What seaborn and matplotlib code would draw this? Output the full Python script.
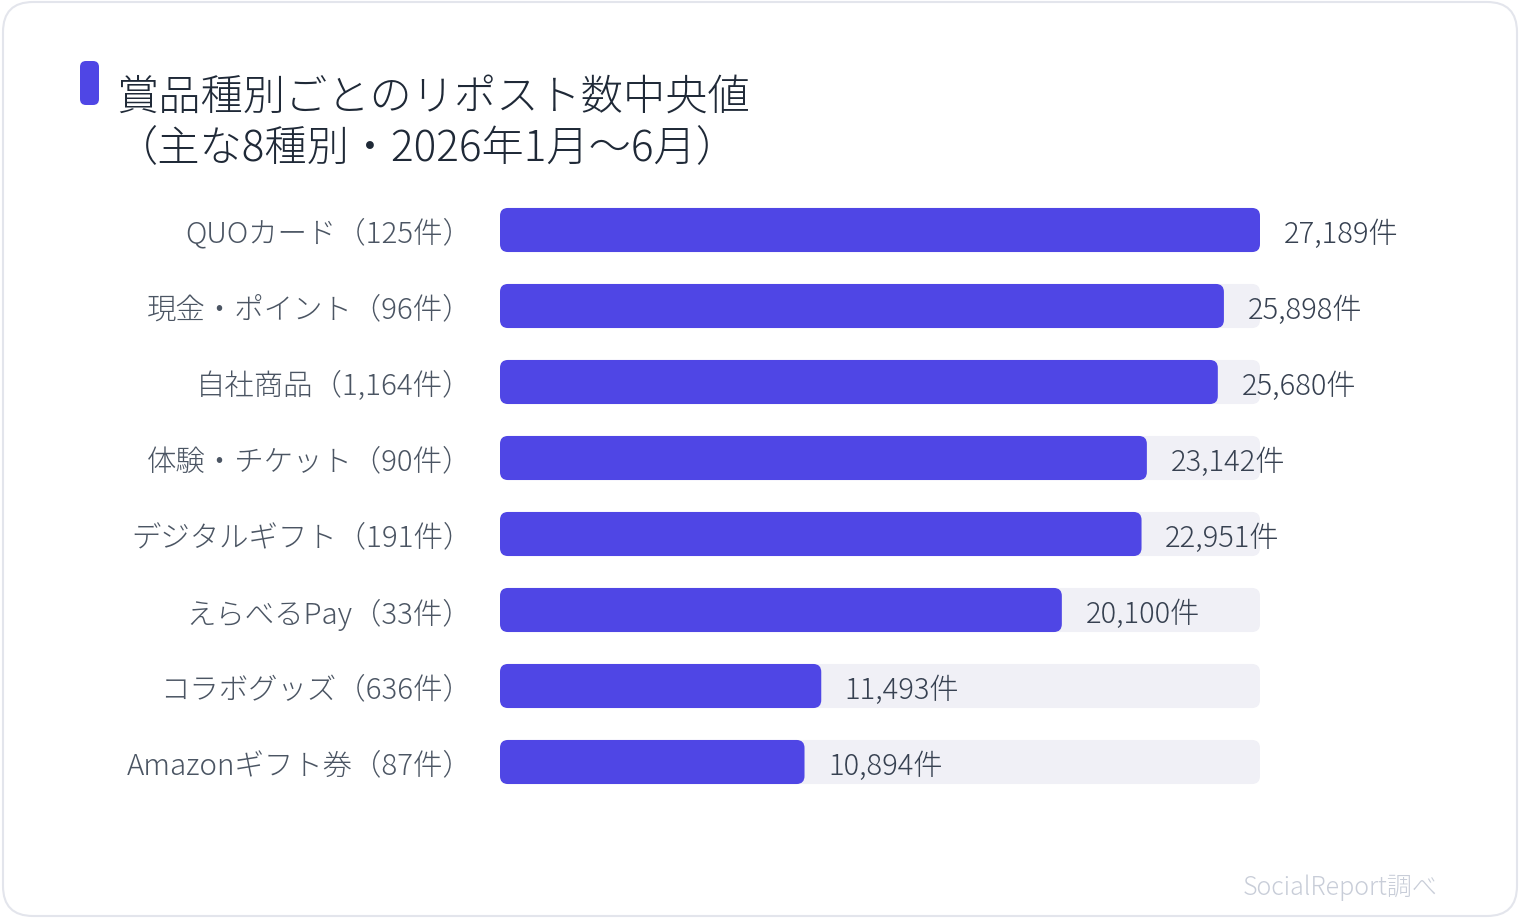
import matplotlib
matplotlib.use("Agg")
import matplotlib.pyplot as plt
from matplotlib.patches import FancyBboxPatch
import seaborn as sns
import pandas as pd

# data
categories = ["QUOカード", "現金・ポイント", "自社商品", "体験・チケット",
              "デジタルギフト", "えらべるPay", "コラボグッズ", "Amazonギフト券"]
counts = [125, 96, 1164, 90, 191, 33, 636, 87]
medians = [27189, 25898, 25680, 23142, 22951, 20100, 11493, 10894]

title_lines = ["賞品種別ごとのリポスト数中央値", "（主な8種別・2026年1月〜6月）"]
source = "SocialReport調べ"

BAR = "#4F46E5"
TRACK = "#F0F0F6"
LABEL = "#4B5563"
VALUE = "#374151"
TITLE = "#1F2937"

sns.set_theme(style="white")
plt.rcParams['font.family'] = ['Noto Sans CJK JP', 'DejaVu Sans']

df = pd.DataFrame({
    "label": ["{}（{:,}件）".format(c, n) for c, n in zip(categories, counts)],
    "median": medians,
})
df["track"] = max(medians)

W, H = 1520, 920
fig = plt.figure(figsize=(W / 100, H / 100), dpi=100)
fig.patch.set_facecolor("white")

# background layer in pixel coordinates for frame / title decoration
bg = fig.add_axes([0, 0, 1, 1], zorder=-1)
bg.set_xlim(0, W)
bg.set_ylim(H, 0)
bg.axis("off")
bg.add_patch(FancyBboxPatch((3, 3), W - 6, H - 6, boxstyle="round,pad=0,rounding_size=30",
                            fc="white", ec="#E3E5EC", lw=1.5))
bg.add_patch(FancyBboxPatch((80, 62), 19, 44, boxstyle="round,pad=0,rounding_size=6",
                            fc=BAR, ec="none"))
bg.text(116, 98, title_lines[0], fontsize=30.4, color=TITLE, fontweight="light", va="center", ha="left")
bg.text(116, 148, title_lines[1], fontsize=30.4, color=TITLE, fontweight="light", va="center", ha="left")
bg.text(1438, 888, source, fontsize=18, color="#C8CDD8", fontweight="light", va="center", ha="right")

# bar area: 500..1260 px wide, rows every 76 px starting at 193
ax = fig.add_axes([500 / W, 1 - 801 / H, 760 / W, 608 / H])
sns.barplot(data=df, x="track", y="label", color=TRACK, width=0.58, saturation=1, ax=ax)
sns.barplot(data=df, x="median", y="label", color=BAR, width=0.58, saturation=1, ax=ax)
ax.set_xlim(0, max(medians))
ax.set_ylim(len(df) - 0.5, -0.5)

# swap rectangles for rounded ones
px_x = max(medians) / 760
px_y = 1 / 76
r = 8 * px_x
aspect = (8 * px_y) / r
rects = list(ax.patches)
for p in rects:
    x, y, w, h = p.get_x(), p.get_y(), p.get_width(), p.get_height()
    fc = p.get_facecolor()
    p.remove()
    ax.add_patch(FancyBboxPatch((x, y), w, h, boxstyle="round,pad=0,rounding_size={}".format(r),
                                mutation_aspect=aspect, fc=fc, ec="none"))

for i, v in enumerate(df["median"]):
    ax.annotate("{:,}件".format(v), xy=(v, i), xytext=(17, -2.5), textcoords="offset points",
                va="center", ha="left", fontsize=21, color=VALUE, fontweight="light",
                annotation_clip=False)

ax.set_xlabel("")
ax.set_ylabel("")
ax.set_xticks([])
ax.tick_params(axis="y", length=0, pad=20, labelsize=21.2, labelcolor=LABEL)
for t in ax.get_yticklabels():
    t.set_fontweight("light")
sns.despine(ax=ax, left=True, bottom=True)
ax.patch.set_alpha(0)

fig.savefig("out.png", dpi=100)
